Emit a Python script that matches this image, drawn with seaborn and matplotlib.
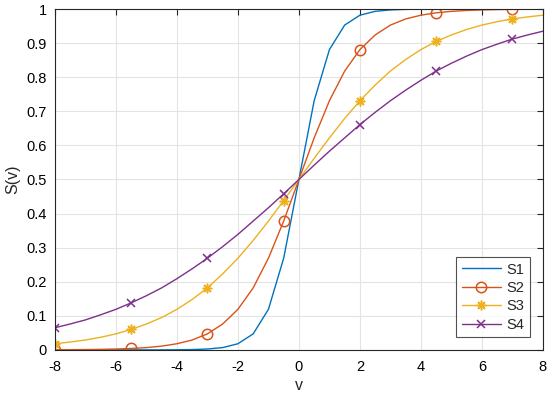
import matplotlib.pyplot as plt
import pandas as pd
import seaborn as sns


V = [-8, -7.5, -7, -6.5, -6, -5.5, -5, -4.5, -4, -3.5, -3, -2.5, -2, -1.5, -1, -0.5,
     0, 0.5, 1, 1.5, 2, 2.5, 3, 3.5, 4, 4.5, 5, 5.5, 6, 6.5, 7, 7.5, 8]

S1 = [0.0, 0.0, 0.0, 0.0, 0.0, 0.0, 0.0, 0.0001, 0.0003, 0.0009, 0.0025, 0.0067,
      0.018, 0.047, 0.119, 0.269, 0.5, 0.731, 0.881, 0.953, 0.982, 0.9933, 0.9975,
      0.9991, 0.9997, 0.9999, 1.0, 1.0, 1.0, 1.0, 1.0, 1.0, 1.0]
S2 = [0.0003, 0.0006, 0.0009, 0.0015, 0.0025, 0.0041, 0.0067, 0.011, 0.018, 0.029,
      0.047, 0.076, 0.119, 0.182, 0.269, 0.378, 0.5, 0.622, 0.731, 0.818, 0.881,
      0.924, 0.953, 0.971, 0.982, 0.989, 0.9933, 0.9959, 0.9975, 0.9985, 0.9991,
      0.9994, 0.9997]
S3 = [0.018, 0.023, 0.029, 0.037, 0.047, 0.060, 0.076, 0.095, 0.119, 0.148, 0.182,
      0.223, 0.269, 0.321, 0.378, 0.438, 0.5, 0.562, 0.622, 0.679, 0.731, 0.777,
      0.818, 0.852, 0.881, 0.905, 0.924, 0.940, 0.953, 0.963, 0.971, 0.977, 0.982]
S4 = [0.065, 0.076, 0.088, 0.103, 0.119, 0.138, 0.159, 0.182, 0.209, 0.238, 0.269,
      0.303, 0.339, 0.378, 0.417, 0.458, 0.5, 0.542, 0.583, 0.622, 0.661, 0.697,
      0.731, 0.762, 0.791, 0.818, 0.841, 0.862, 0.881, 0.897, 0.912, 0.924, 0.935]

SERIES = ["S1", "S2", "S3", "S4"]
COLORS = ["#0072BD", "#D95319", "#EDB120", "#7E2F8E"]
MARKERS = [None, "o", (8, 2, 0), "x"]
MARKER_SIZES = [7, 7.5, 7, 6]


def build_dataframe() -> pd.DataFrame:
    frames = []
    for name, values in zip(SERIES, [S1, S2, S3, S4]):
        frames.append(pd.DataFrame({"v": V, "S": values, "series": name}))
    return pd.concat(frames, ignore_index=True)


def main() -> None:
    sns.set_style("white")
    plt.rcParams["font.family"] = ["Liberation Sans", "DejaVu Sans"]
    plt.rcParams["axes.unicode_minus"] = False

    df = build_dataframe()

    fig = plt.figure(figsize=(5.5, 3.94), dpi=100)
    ax = fig.add_axes([0.1, 0.112, 0.887, 0.865])

    for name, color, marker, size in zip(SERIES, COLORS, MARKERS, MARKER_SIZES):
        part = df[df["series"] == name]
        sns.lineplot(
            data=part, x="v", y="S", ax=ax, color=color, label=name,
            linewidth=1.0, marker=marker,
            markevery=5, markersize=size,
            markerfacecolor="none" if marker == "o" else color,
            markeredgecolor=color, markeredgewidth=1.1,
        )

    ax.set_xlim(-8, 8)
    ax.set_ylim(0, 1)
    ax.set_xticks(range(-8, 9, 2))
    ax.set_yticks([i / 10 for i in range(11)])
    ax.set_yticklabels(["0"] + [f"{i / 10:.1f}" for i in range(1, 10)] + ["1"])
    ax.grid(True, color="#e3e3e3", linewidth=0.8)
    ax.tick_params(direction="in", top=True, right=True, labelsize=10.5,
                   length=4, colors="#262626", labelcolor="black")
    ax.tick_params(axis="x", pad=7)
    ax.tick_params(axis="y", pad=6)
    for spine in ax.spines.values():
        spine.set_color("#262626")
        spine.set_linewidth(0.8)

    ax.set_xlabel("v", fontsize=11.5, labelpad=3)
    ax.set_ylabel("S(v)", fontsize=11.5, labelpad=4)

    legend = ax.legend(
        loc="lower right", fontsize=10.5, frameon=True, fancybox=False,
        borderaxespad=0.9, handlelength=2.7, handletextpad=0.4,
        edgecolor="#262626", borderpad=0.35, labelspacing=0.3,
    )
    legend.get_frame().set_linewidth(0.8)

    fig.savefig("out.png", dpi=100)
    plt.close(fig)


if __name__ == "__main__":
    main()
